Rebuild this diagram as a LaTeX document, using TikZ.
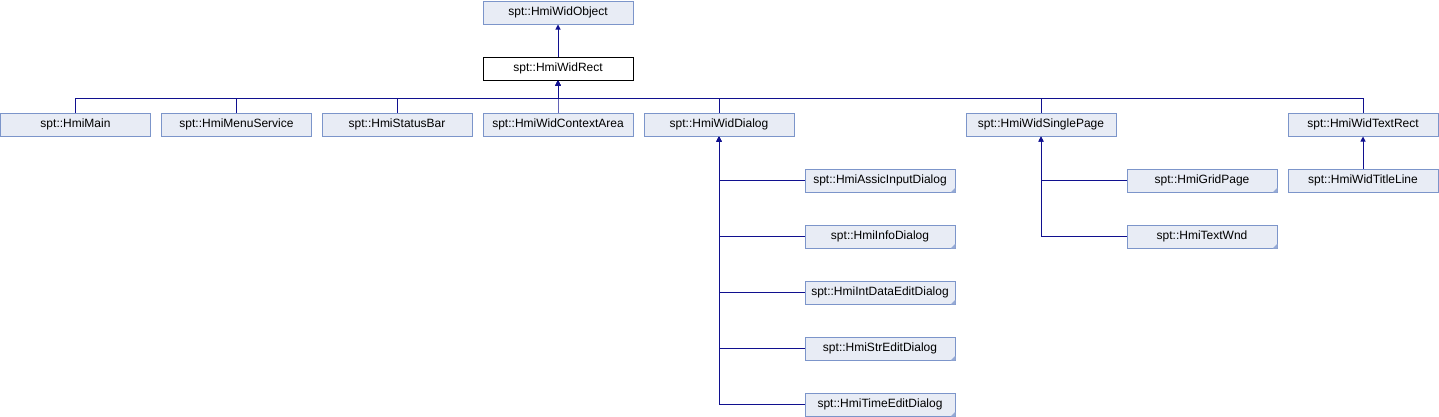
\documentclass[tikz,border=0pt]{standalone}
\usepackage{fontspec}
\setmainfont{Liberation Sans}
\usetikzlibrary{arrows.meta}

\definecolor{clsfill}{HTML}{E8ECF5}
\definecolor{clsline}{HTML}{7C95CA}
\definecolor{edgeblue}{HTML}{10108F}

\begin{document}
\begin{tikzpicture}[x=1pt,y=-1pt,
    cls/.style={draw=clsline,fill=clsfill,line width=1pt,minimum width=150pt,
                minimum height=23pt,inner sep=0pt,font=\fontsize{12}{14}\selectfont},
    cur/.style={cls,draw=black,fill=white},
    edge/.style={draw=edgeblue,line width=1pt,-{Triangle[length=5pt,width=5pt]}}]

  % Page frame (pixel units)
  \useasboundingbox (0,0) rectangle (1439,416);

  % --- Base classes ---
  \node[cls] (obj)  at (558,12.5) {spt::HmiWidObject};
  \node[cur] (rect) at (558,68.5) {spt::HmiWidRect};

  % --- Direct subclasses of HmiWidRect ---
  \node[cls] (main)     at (75.5,124.5)  {spt::HmiMain};
  \node[cls] (menu)     at (236.5,124.5) {spt::HmiMenuService};
  \node[cls] (status)   at (397,124.5)   {spt::HmiStatusBar};
  \node[cls] (ctx)      at (558,124.5)   {spt::HmiWidContextArea};
  \node[cls] (dlg)      at (719,124.5)   {spt::HmiWidDialog};
  \node[cls] (single)   at (1041,124.5)  {spt::HmiWidSinglePage};
  \node[cls] (textrect) at (1363,124.5)  {spt::HmiWidTextRect};

  % --- Dialogs ---
  \node[cls] (assic)   at (880,180.5) {spt::HmiAssicInputDialog};
  \node[cls] (info)    at (880,236.5) {spt::HmiInfoDialog};
  \node[cls] (intdata) at (880,292.5) {spt::HmiIntDataEditDialog};
  \node[cls] (stredit) at (880,348.5) {spt::HmiStrEditDialog};
  \node[cls] (timeed)  at (880,404.5) {spt::HmiTimeEditDialog};

  % --- Pages and title line ---
  \node[cls] (grid)  at (1202,180.5) {spt::HmiGridPage};
  \node[cls] (wnd)   at (1202,236.5) {spt::HmiTextWnd};
  \node[cls] (title) at (1363,180.5) {spt::HmiWidTitleLine};

  % Folded corners of the leaf classes
  \foreach \n in {assic,info,intdata,stredit,timeed,grid,wnd} {
    \fill[clsline!80] ([xshift=-5pt]\n.south east) -- ([yshift=5pt]\n.south east)
      -- (\n.south east) -- cycle;
  }

  % --- Inheritance edges ---
  \draw[edge] (rect.north) -- (obj.south);

  \coordinate (bus) at ([yshift=-17.5pt]rect.south);
  \foreach \c in {main,menu,status,ctx,dlg,single,textrect} {
    \draw[edge] (\c.north) |- (bus) -- (rect.south);
  }

  \foreach \c in {assic,info,intdata,stredit,timeed} {
    \draw[edge] (\c.west) -| (dlg.south);
  }
  \foreach \c in {grid,wnd} {
    \draw[edge] (\c.west) -| (single.south);
  }
  \draw[edge] (title.north) -- (textrect.south);

\end{tikzpicture}
\end{document}
